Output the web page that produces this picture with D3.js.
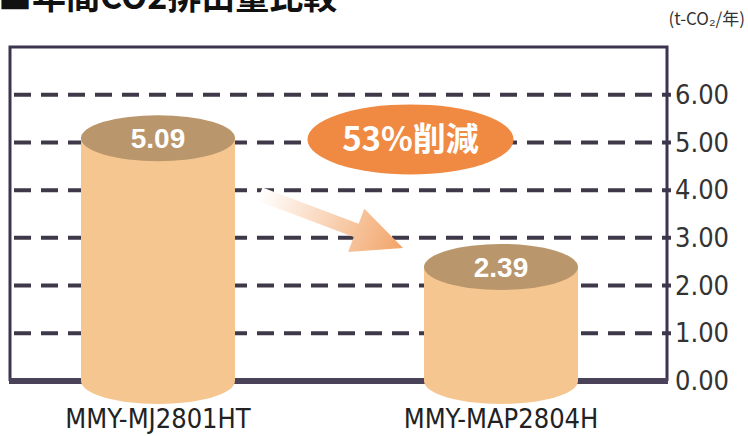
<!doctype html>
<html>
<head>
    <meta charset="utf-8">
    <title>年間CO2排出量比較</title>
    <script src="https://cdn.jsdelivr.net/npm/d3@7"></script>
    <style>
        body { margin: 0; background: #fff; }
        svg { display: block; }
        .tick text {
            font-family: "Liberation Sans Narrow", "DejaVu Sans Condensed", sans-serif;
            font-size: 27px;
            fill: #333;
        }
        .cat {
            font-family: "Liberation Sans Narrow", "DejaVu Sans Condensed", sans-serif;
            font-size: 27px;
            fill: #222;
            text-anchor: middle;
        }
    </style>
</head>
<body>
<script>
    "use strict";

    const title = "■年間CO2排出量比較";
    const unit = "(t-CO₂/年)";
    const categories = ["MMY-MJ2801HT", "MMY-MAP2804H"];
    const values = [5.09, 2.39];
    const valueLabels = ["5.09", "2.39"];
    const tickValues = [0, 1, 2, 3, 4, 5, 6];
    const reduction = "53%削減";

    const width = 748;
    const height = 436;
    const box = { left: 10, right: 667, top: 47, bottom: 381 };

    const y = d3.scaleLinear()
        .domain([0, 7])
        .range([box.bottom, box.top]);

    const x = d3.scalePoint()
        .domain(categories)
        .range([158, 501]);

    const rx = 77, ry = 23;

    const svg = d3.select("body").append("svg")
        .attr("width", width)
        .attr("height", height);

    const defs = svg.append("defs");
    const grad = defs.append("linearGradient")
        .attr("id", "arrowGrad")
        .attr("x1", "0%").attr("x2", "100%")
        .attr("y1", "0%").attr("y2", "0%");
    grad.append("stop").attr("offset", "0%").attr("stop-color", "#fff").attr("stop-opacity", 1);
    grad.append("stop").attr("offset", "100%").attr("stop-color", "#f2a468");

    // title (clipped at top in the original)
    svg.append("text")
        .attr("x", -2)
        .attr("y", 9)
        .attr("font-family", "'Noto Sans CJK JP', sans-serif")
        .attr("font-weight", "bold")
        .attr("font-size", 34)
        .attr("fill", "#111")
        .text(title);

    svg.append("text")
        .attr("x", 745)
        .attr("y", 25)
        .attr("text-anchor", "end")
        .attr("font-family", "'Liberation Sans Narrow', 'Noto Sans CJK JP', sans-serif")
        .attr("font-size", 17)
        .attr("fill", "#333")
        .text(unit);

    // gridlines + tick labels on the right
    const yAxis = svg.append("g")
        .attr("transform", `translate(${box.right},0)`)
        .call(d3.axisRight(y)
            .tickValues(tickValues)
            .tickFormat(d3.format(".2f"))
            .tickSize(0)
            .tickPadding(8));
    yAxis.select(".domain").remove();

    svg.append("g")
        .selectAll("line")
        .data(tickValues.filter(d => d > 0))
        .join("line")
        .attr("x1", box.left + 4)
        .attr("x2", box.right + 4)
        .attr("y1", d => y(d))
        .attr("y2", d => y(d))
        .attr("stroke", "#3e3848")
        .attr("stroke-width", 4)
        .attr("stroke-dasharray", "17 10");

    // frame
    svg.append("path")
        .attr("d", `M${box.left},${y(0)}V${box.top}H${box.right}V${y(0)}`)
        .attr("fill", "none")
        .attr("stroke", "#3d3550")
        .attr("stroke-width", 3);
    svg.append("line")
        .attr("x1", box.left - 1)
        .attr("x2", box.right + 1)
        .attr("y1", y(0))
        .attr("y2", y(0))
        .attr("stroke", "#4a4258")
        .attr("stroke-width", 6);

    // arrow
    const ax0 = x(categories[0]) + 102, ay0 = y(4.0) + 4;
    const ax1 = x(categories[1]) - 98, ay1 = y(values[1]) - 19;
    const len = Math.hypot(ax1 - ax0, ay1 - ay0);
    const ang = Math.atan2(ay1 - ay0, ax1 - ax0) * 180 / Math.PI;
    const sw = 7, hw = 23, hl = 50;
    svg.append("path")
        .attr("transform", `translate(${ax0},${ay0}) rotate(${ang})`)
        .attr("d", `M0,${-sw}L${len - hl},${-sw}L${len - hl},${-hw}L${len},0L${len - hl},${hw}L${len - hl},${sw}L0,${sw}Z`)
        .attr("fill", "url(#arrowGrad)");

    // cylinders
    const cyl = svg.append("g")
        .selectAll("g")
        .data(categories.map((c, i) => ({ c, v: values[i], label: valueLabels[i] })))
        .join("g");

    cyl.append("path")
        .attr("d", d => {
            const cx = x(d.c), top = y(d.v), bot = y(0);
            return `M${cx - rx},${top}V${bot}A${rx},${ry} 0 0 0 ${cx + rx},${bot}V${top}Z`;
        })
        .attr("fill", "#f6c690");

    cyl.append("ellipse")
        .attr("cx", d => x(d.c))
        .attr("cy", d => y(d.v))
        .attr("rx", rx)
        .attr("ry", ry)
        .attr("fill", "#b9966b");

    cyl.append("text")
        .attr("x", d => x(d.c))
        .attr("y", d => y(d.v) + 10)
        .attr("text-anchor", "middle")
        .attr("font-family", "'Liberation Sans', Arial, sans-serif")
        .attr("font-weight", "bold")
        .attr("font-size", 28)
        .attr("fill", "#fff")
        .text(d => d.label);

    svg.append("g")
        .selectAll("text")
        .data(categories)
        .join("text")
        .attr("class", "cat")
        .attr("x", d => x(d))
        .attr("y", 428)
        .text(d => d);

    // reduction badge
    const bx = (x(categories[0]) + x(categories[1])) / 2 + 81;
    const by = y(5.0) - 3;
    svg.append("ellipse")
        .attr("cx", bx)
        .attr("cy", by)
        .attr("rx", 103)
        .attr("ry", 35)
        .attr("fill", "#f08a42");
    svg.append("text")
        .attr("x", bx)
        .attr("y", by + 12)
        .attr("text-anchor", "middle")
        .attr("font-family", "'Noto Sans CJK JP', sans-serif")
        .attr("font-weight", "bold")
        .attr("font-size", 33)
        .attr("fill", "#fff")
        .text(reduction);
</script>
</body>
</html>
